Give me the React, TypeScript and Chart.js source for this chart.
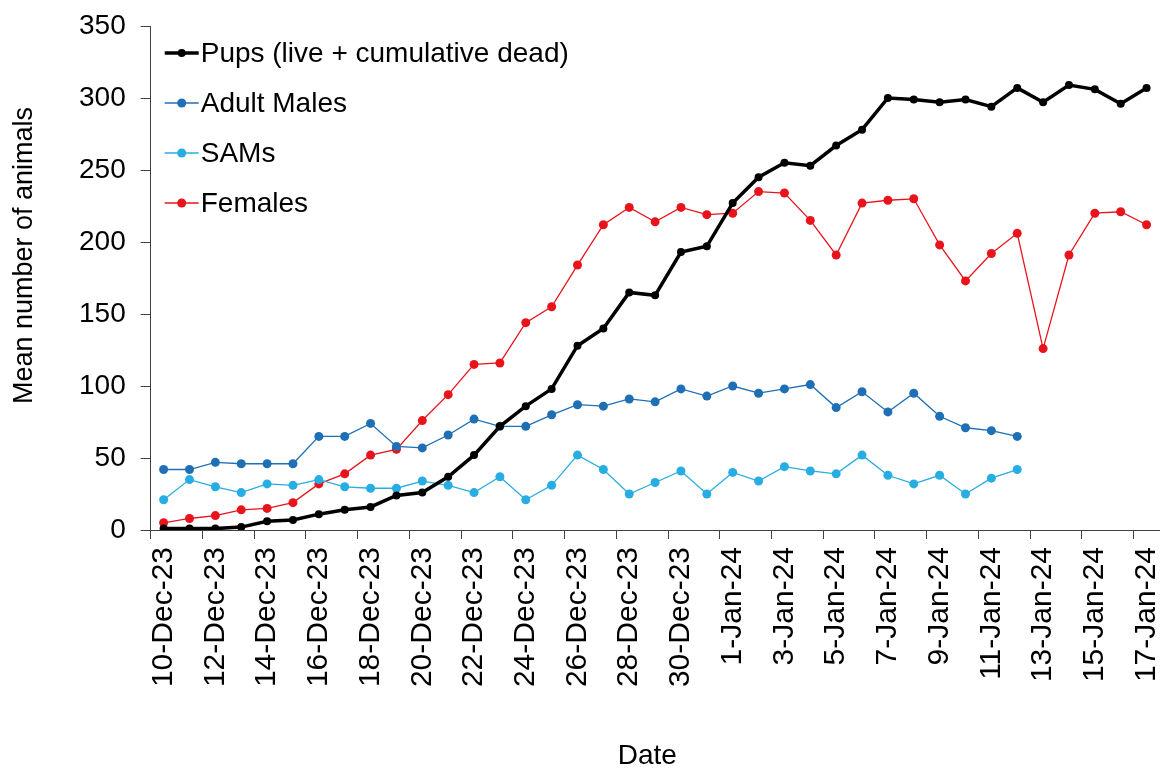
import React, { useEffect, useRef } from "react";
import { Chart, registerables } from "chart.js";

Chart.register(...registerables);

const DATES = [
  "10-Dec-23", "11-Dec-23", "12-Dec-23", "13-Dec-23", "14-Dec-23", "15-Dec-23", "16-Dec-23",
  "17-Dec-23", "18-Dec-23", "19-Dec-23", "20-Dec-23", "21-Dec-23", "22-Dec-23", "23-Dec-23",
  "24-Dec-23", "25-Dec-23", "26-Dec-23", "27-Dec-23", "28-Dec-23", "29-Dec-23", "30-Dec-23",
  "31-Dec-23", "1-Jan-24", "2-Jan-24", "3-Jan-24", "4-Jan-24", "5-Jan-24", "6-Jan-24",
  "7-Jan-24", "8-Jan-24", "9-Jan-24", "10-Jan-24", "11-Jan-24", "12-Jan-24", "13-Jan-24",
  "14-Jan-24", "15-Jan-24", "16-Jan-24", "17-Jan-24",
];

const PUPS = [
  1, 1, 1, 2, 6, 7, 11, 14, 16, 24, 26, 37, 52,
  72, 86, 98, 128, 140, 165, 163, 193, 197, 227, 245, 255, 253,
  267, 278, 300, 299, 297, 299, 294, 307, 297, 309, 306, 296, 307,
];

const ADULT_MALES = [
  42, 42, 47, 46, 46, 46, 65, 65, 74, 58, 57, 66, 77,
  72, 72, 80, 87, 86, 91, 89, 98, 93, 100, 95, 98, 101,
  85, 96, 82, 95, 79, 71, 69, 65, null, null, null, null, null,
];

const SAMS = [
  21, 35, 30, 26, 32, 31, 35, 30, 29, 29, 34, 31, 26,
  37, 21, 31, 52, 42, 25, 33, 41, 25, 40, 34, 44, 41,
  39, 52, 38, 32, 38, 25, 36, 42, null, null, null, null, null,
];

const FEMALES = [
  5, 8, 10, 14, 15, 19, 32, 39, 52, 56, 76, 94, 115,
  116, 144, 155, 184, 212, 224, 214, 224, 219, 220, 235, 234, 215,
  191, 227, 229, 230, 198, 173, 192, 206, 126, 191, 220, 221, 212,
];

const Y_TICKS = [0, 50, 100, 150, 200, 250, 300, 350];

const FONT = '"Liberation Sans", Arial, sans-serif';
const AXIS_COLOR = "#404040";

const legendPlugin = {
  id: "insideLegend",
  afterDraw(chart: any) {
    const { ctx, chartArea } = chart;
    ctx.save();
    chart.data.datasets.forEach((ds: any, i: number) => {
      const y = chartArea.top + 27 + i * 50;
      const x0 = chartArea.left + 14;
      const x1 = chartArea.left + 48;
      ctx.strokeStyle = ds.borderColor;
      ctx.lineWidth = ds.borderWidth;
      ctx.beginPath();
      ctx.moveTo(x0, y);
      ctx.lineTo(x1, y);
      ctx.stroke();
      ctx.fillStyle = ds.pointBackgroundColor;
      ctx.beginPath();
      ctx.arc((x0 + x1) / 2, y, ds.pointRadius, 0, Math.PI * 2);
      ctx.fill();
      ctx.fillStyle = "#000";
      ctx.font = `28px ${FONT}`;
      ctx.textAlign = "left";
      ctx.textBaseline = "middle";
      ctx.fillText(ds.label, x1 + 2, y + 1);
    });
    ctx.restore();
  },
};

export default function App() {
  const canvasRef = useRef<HTMLCanvasElement | null>(null);

  useEffect(() => {
    if (!canvasRef.current) return;
    const mk = (label: string, data: any[], color: string, width: number, radius: number) => ({
      label,
      data,
      borderColor: color,
      backgroundColor: color,
      pointBackgroundColor: color,
      pointBorderColor: color,
      pointBorderWidth: 0,
      borderWidth: width,
      pointRadius: radius,
      tension: 0,
      spanGaps: false,
      fill: false,
    });
    const chart = new Chart(canvasRef.current, {
      type: "line",
      data: {
        labels: DATES,
        datasets: [
          mk("Pups (live + cumulative dead)", PUPS, "#000000", 3.5, 4),
          mk("Adult Males", ADULT_MALES, "#1f6fb5", 1.3, 4.5),
          mk("SAMs", SAMS, "#27ade2", 1.3, 4.5),
          mk("Females", FEMALES, "#e8141c", 1.3, 4.5),
        ],
      },
      options: {
        animation: false,
        responsive: false,
        layout: { padding: { top: 26, right: 3.5, bottom: 0, left: 0 } },
        plugins: {
          legend: { display: false },
          tooltip: { enabled: false },
        },
        scales: {
          x: {
            type: "category",
            offset: true,
            grid: {
              offset: true,
              drawOnChartArea: false,
              drawTicks: true,
              tickLength: 9,
              tickColor: (c: any) => (c.index !== undefined && c.index % 2 === 0 ? AXIS_COLOR : "rgba(0,0,0,0)"),
            },
            border: { color: AXIS_COLOR, width: 1 },
            ticks: {
              autoSkip: false,
              maxRotation: 90,
              minRotation: 90,
              padding: 8,
              color: "#000",
              font: { size: 30, family: FONT },
              callback: (_v: any, i: number) => (i % 2 === 0 ? DATES[i] : ""),
            },
            title: {
              display: true,
              text: "Date  ",
              color: "#000",
              font: { size: 28, family: FONT },
              padding: { top: 0, bottom: 0 },
            },
            afterFit: (s: any) => {
              s.height = 243;
              s.paddingLeft = 0;
              s.paddingRight = 0;
            },
          },
          y: {
            min: 0,
            max: 350,
            afterBuildTicks: (s: any) => {
              s.ticks = Y_TICKS.map((v) => ({ value: v }));
            },
            grid: {
              drawOnChartArea: false,
              drawTicks: true,
              tickLength: 10,
              tickColor: AXIS_COLOR,
            },
            border: { color: AXIS_COLOR, width: 1 },
            ticks: {
              padding: 15,
              color: "#000",
              font: { size: 28, family: FONT },
            },
            title: {
              display: true,
              text: "      Mean number of animals",
              color: "#000",
              font: { size: 27, family: FONT },
              padding: { top: 8.5, bottom: 0 },
            },
            afterFit: (s: any) => {
              s.width = 150.7;
              s.paddingTop = 0;
              s.paddingBottom = 0;
            },
          },
        },
      },
      plugins: [legendPlugin],
    });
    return () => chart.destroy();
  }, []);

  return (
    <div style={{ position: "fixed", left: 0, top: 0, width: 1164, height: 773, background: "#fff" }}>
      <canvas ref={canvasRef} width={1164} height={773} />
    </div>
  );
}
